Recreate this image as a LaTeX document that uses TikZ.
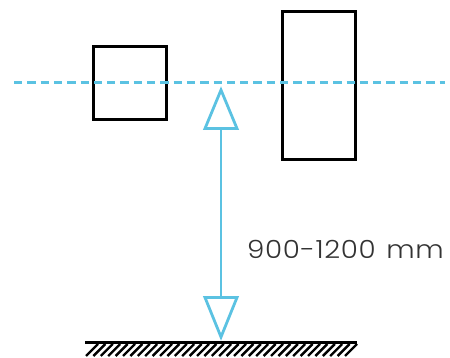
\documentclass[tikz,border=0pt]{standalone}
\usepackage{fontspec}
\setmainfont{Poppins Light}[FakeStretch=1.11,LetterSpace=2.5,WordSpace=1.3]
\definecolor{skyb}{HTML}{5BC2E2}
\tikzset{
  box/.style={draw=black,line width=3pt,fill=none,inner sep=0pt,minimum width=#1},
  level/.style={draw=skyb,line width=2.7pt,dash pattern=on 8.3pt off 5pt},
  dim/.style={draw=skyb,line width=2.8pt},
  tri/.style={draw=skyb,line width=2.8pt,line join=miter,fill=white},
  ground/.style={draw=black,line width=3pt},
  hatch/.style={draw=black,line width=2.4pt},
}
\begin{document}
\begin{tikzpicture}[x=1pt,y=-1pt]
\useasboundingbox (0,0) rectangle (450,358);
\node[box=73pt,minimum height=73pt] (a) at (130.2,83) {};
\node[box=73pt,minimum height=148pt] (b) at (319.2,85.5) {};
\coordinate (l) at (14,82.5);
\coordinate (r) at (445,82.5);
\draw[level] (l) -- (r);
\coordinate (t) at (221,129);
\coordinate (d) at (221,297);
\draw[dim] (t) -- (d);
\draw[tri] (221,90) -- (237,128.5) -- (205,128.5) -- cycle;
\draw[tri] (221,337) -- (237,297.5) -- (205,297.5) -- cycle;
\coordinate (g1) at (85,342.5);
\coordinate (g2) at (357,342.5);
\draw[ground] (g1) -- (g2);
\foreach \i in {0,...,35} {
  \draw[hatch] ({98+7.4*\i},344) -- ({86+7.4*\i},356);
}
\node[anchor=west,inner sep=0pt,font=\fontsize{25}{26}\selectfont,text=black!80] (lab) at (247,249.5) {900-1200 mm};
\end{tikzpicture}
\end{document}
